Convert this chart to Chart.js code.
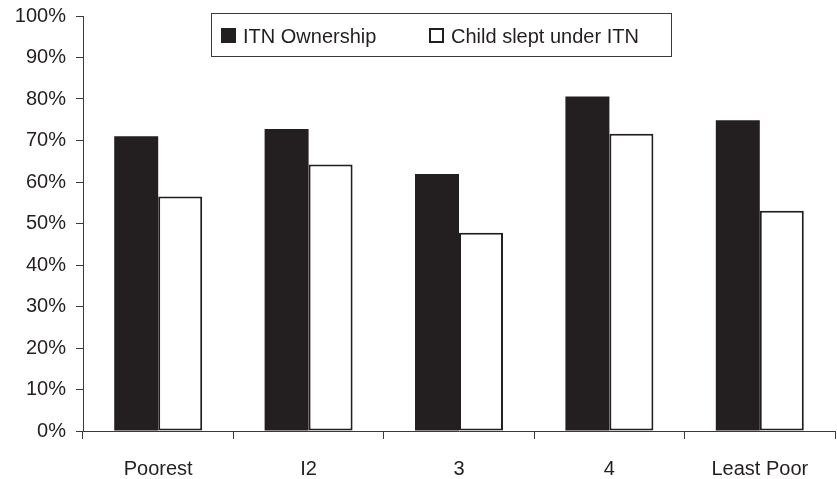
<!DOCTYPE html>
<html>
<head>
<meta charset="utf-8">
<script src="https://cdn.jsdelivr.net/npm/chart.js@4.4.1/dist/chart.umd.min.js"></script>
<style>
html,body{margin:0;padding:0;background:#fff;}
#wrap{width:837px;height:479px;}
</style>
</head>
<body>
<div id="wrap"><canvas id="c" width="837" height="479"></canvas></div>
<script>
const categories = ["Poorest", "I2", "3", "4", "Least Poor"];
const itnOwnership = [71.0, 72.8, 61.9, 80.6, 74.9];
const childSlept = [56.5, 64.2, 47.8, 71.6, 53.1];
const seriesLabels = ["ITN Ownership", "Child slept under ITN"];
const yTicks = [0, 10, 20, 30, 40, 50, 60, 70, 80, 90, 100];

const INK = "#231f20";
const AXIS = "#3a3a3a";
const FONT = "'Liberation Sans', Arial, Helvetica, sans-serif";

const boxLegend = {
  id: "boxLegend",
  afterDraw(chart) {
    const ctx = chart.ctx;
    const ca = chart.chartArea;
    const bx = ca.left + 128, by = 13, bw = 460, bh = 43;
    ctx.save();
    ctx.fillStyle = "#fff";
    ctx.fillRect(bx, by, bw, bh);
    ctx.strokeStyle = AXIS;
    ctx.lineWidth = 1;
    ctx.strokeRect(bx + 0.5, by + 0.5, bw, bh);
    ctx.font = "20px " + FONT;
    ctx.textBaseline = "middle";
    ctx.fillStyle = INK;
    const items = [{x: bx + 10, tx: bx + 32}, {x: bx + 218, tx: bx + 240}];
    chart.data.datasets.forEach((ds, i) => {
      const it = items[i];
      if (i === 0) {
        ctx.fillStyle = INK;
        ctx.fillRect(it.x, by + 15, 15, 15);
      } else {
        ctx.fillStyle = "#fff";
        ctx.fillRect(it.x, by + 15, 15, 15);
        ctx.strokeStyle = INK;
        ctx.lineWidth = 2;
        ctx.strokeRect(it.x + 1, by + 16, 13, 13);
      }
      ctx.fillStyle = INK;
      ctx.fillText(ds.label, it.tx, by + 24);
    });
    ctx.restore();
  }
};

new Chart(document.getElementById("c"), {
  type: "bar",
  data: {
    labels: categories,
    datasets: [
      {
        label: seriesLabels[0],
        data: itnOwnership,
        backgroundColor: INK,
        borderColor: INK,
        borderWidth: 0,
        categoryPercentage: 0.585,
        barPercentage: 1.0
      },
      {
        label: seriesLabels[1],
        data: childSlept,
        backgroundColor: "#ffffff",
        borderColor: INK,
        borderWidth: 2,
        borderSkipped: false,
        categoryPercentage: 0.585,
        barPercentage: 1.0
      }
    ]
  },
  options: {
    responsive: false,
    animation: false,
    devicePixelRatio: 1,
    layout: { padding: { left: 0, right: 2, top: 0, bottom: 0 } },
    plugins: {
      legend: { display: false },
      tooltip: { enabled: false }
    },
    scales: {
      x: {
        offset: true,
        grid: {
          offset: true,
          drawOnChartArea: false,
          drawTicks: true,
          tickLength: 8,
          color: AXIS,
          lineWidth: 1
        },
        border: { display: true, color: AXIS, width: 1 },
        ticks: {
          color: INK,
          font: { family: FONT, size: 20 },
          padding: 18,
          maxRotation: 0,
          autoSkip: false
        },
        afterFit(scale) { scale.height = 48; }
      },
      y: {
        min: 0,
        max: 100,
        afterBuildTicks(scale) { scale.ticks = yTicks.map(v => ({ value: v })); },
        grid: {
          drawOnChartArea: false,
          drawTicks: true,
          tickLength: 7,
          color: AXIS,
          lineWidth: 1
        },
        border: { display: true, color: AXIS, width: 1 },
        ticks: {
          color: INK,
          font: { family: FONT, size: 20 },
          padding: 10,
          callback: v => v + "%"
        },
        afterFit(scale) {
          scale.width = 83;
          scale.paddingTop = 16;
        }
      }
    }
  },
  plugins: [boxLegend]
});
</script>
</body>
</html>
